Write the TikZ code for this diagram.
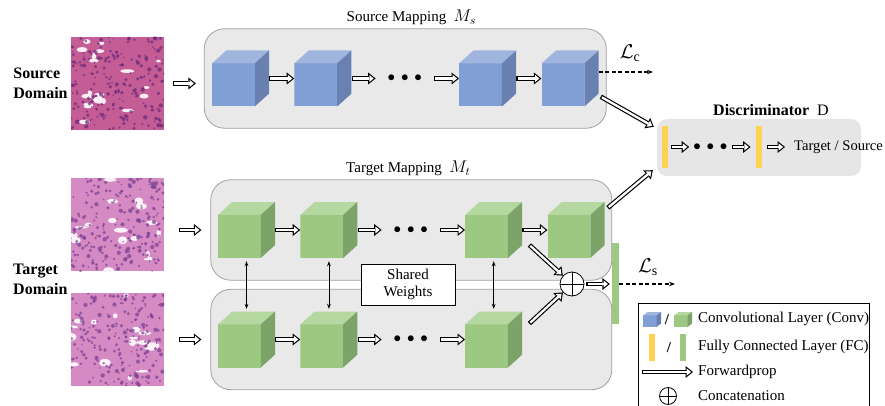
\RequirePackage{fix-cm}
\documentclass[tikz,border=0pt]{standalone}
\usepackage{amsmath, amssymb}
\usepackage{fontspec}
\setmainfont{Liberation Serif}
\usepackage{tikz}
\usetikzlibrary{arrows.meta, positioning, calc, fit, backgrounds}

\definecolor{bluefront}{RGB}{127,159,213}
\definecolor{bluetop}{RGB}{160,181,222}
\definecolor{blueside}{RGB}{104,129,176}
\definecolor{greenfront}{RGB}{157,200,130}
\definecolor{greentop}{RGB}{181,215,160}
\definecolor{greenside}{RGB}{124,163,104}
\definecolor{fcyellow}{RGB}{255,210,85}
\definecolor{fcgreen}{RGB}{157,200,130}
\definecolor{boxfill}{RGB}{233,233,233}
\definecolor{boxline}{RGB}{160,160,160}
\definecolor{discfill}{RGB}{230,230,230}
\definecolor{srcpink}{RGB}{196,92,150}
\definecolor{srcpurple}{RGB}{104,40,118}
\definecolor{tgtpink}{RGB}{214,138,196}
\definecolor{tgtpurple}{RGB}{118,62,142}

\begin{document}
\begin{tikzpicture}[
  x=1pt, y=-1pt,
  font=\fontsize{15}{17}\selectfont,
  convcube/.style={minimum width=57pt, minimum height=56pt, inner sep=0pt, path picture={
    \coordinate (cfr) at ($(path picture bounding box.south west)!.75!(path picture bounding box.south east)$);
    \coordinate (cft) at ($(path picture bounding box.south west)!.77!(path picture bounding box.north west)$);
    \coordinate (cbt) at ($(path picture bounding box.north west)!.25!(path picture bounding box.north east)$);
    \coordinate (cbs) at ($(path picture bounding box.south east)!.23!(path picture bounding box.north east)$);
    \fill[#1front] (path picture bounding box.south west) rectangle (cfr |- cft);
    \fill[#1top] (cft) -- (cbt) -- (path picture bounding box.north east) -- (cfr |- cft) -- cycle;
    \fill[#1side] (cfr |- cft) -- (path picture bounding box.north east) -- (cbs) -- (cfr) -- cycle;
  }},
  tissue/.style n args={3}{minimum size=93pt, inner sep=0pt, fill=#1, path picture={
    \pgfmathsetseed{#3}
    \foreach \k in {1,...,18}
      \fill[white!90!#1] ($(path picture bounding box.north west)+({rnd*93},{rnd*93})$) ellipse ({2+rnd*5} and {1+rnd*3});
    \foreach \k in {1,...,220}
      \fill[#2, opacity=.7] ($(path picture bounding box.north west)+({rnd*93},{rnd*93})$) circle ({.8+rnd*1.4});
  }},
  mapbox/.style={draw=boxline, fill=boxfill, rounded corners=20pt, line width=0.8pt},
  fcbar/.style={fill=#1, minimum width=6pt, minimum height=42pt, inner sep=0pt},
  dotsbox/.style={minimum width=58pt, inner sep=0pt},
  concat/.style={circle, draw, fill=white, line width=0.8pt, minimum size=24pt, inner sep=0pt, path picture={
    \draw[line width=0.8pt] (path picture bounding box.north) -- (path picture bounding box.south)
      (path picture bounding box.west) -- (path picture bounding box.east);
  }},
  fwdsh/.style 2 args={line width=4.6pt, shorten <=#1, shorten >=#2,
    -{Triangle[length=7.5pt, width=12pt, line width=0pt]},
    postaction={draw=white, line width=2.3pt, shorten <=#1+1.2pt, shorten >=#2+1.9pt,
      -{Triangle[length=4.4pt, width=7.2pt, line width=0pt]}}},
  fwd/.style={fwdsh={0pt}{0pt}},
  loss/.style={line width=1.1pt, dash pattern=on 4pt off 2.5pt, -{Stealth[length=6pt]}},
  share/.style={line width=0.8pt, {Stealth[length=5pt]}-{Stealth[length=5pt]}, shorten <=3pt, shorten >=2.5pt},
  lossname/.style={font=\fontsize{20}{24}\selectfont},
  domainname/.style={inner sep=0pt, align=left, font=\fontsize{16}{20}\selectfont\bfseries},
  node distance=25pt
]
\useasboundingbox (0,0) rectangle (885,406);
\clip (0,0) rectangle (885,406);

% images
\node[tissue={srcpink}{srcpurple}{11}] (srcimg) at (117.5,83.5) {};
\node[tissue={tgtpink}{tgtpurple}{23}] (timg1) at (117.5,224.5) {};
\node[tissue={tgtpink}{tgtpurple}{37}] (timg2) at (117.5,339.5) {};
\node[domainname, left=3pt of srcimg] (srcname) {Source\\Domain};
\node[domainname, anchor=west] (tgtname) at (13,279) {Target\\Domain};

% source mapping
\node[convcube=blue] (src1) at (240.5,78.5) {};
\node[convcube=blue, right=of src1] (src2) {};
\node[dotsbox, right=24pt of src2] (srcdots) {$\bullet\,\bullet\,\bullet$};
\node[convcube=blue, right=of srcdots] (src3) {};
\node[convcube=blue, right=of src3] (src4) {};

% target mapping, two streams
\node[convcube=green] (tu1) at (246.5,230) {};
\node[convcube=green, right=of tu1] (tu2) {};
\node[dotsbox, right=24pt of tu2] (tudots) {$\bullet\,\bullet\,\bullet$};
\node[convcube=green, right=of tudots] (tu3) {};
\node[convcube=green, right=of tu3] (tu4) {};
\node[convcube=green] (tl1) at (246.5,339.5) {};
\node[convcube=green, right=of tl1] (tl2) {};
\node[dotsbox, right=24pt of tl2] (tldots) {$\bullet\,\bullet\,\bullet$};
\node[convcube=green, right=of tldots] (tl3) {};

\begin{scope}[on background layer]
\node[mapbox, fit=(src1) (src4), inner xsep=7.5pt, inner ysep=21.5pt,
  label={[xshift=6pt]above:Source Mapping \ {\fontsize{17}{17}\selectfont$M_s$}}] (srcmap) {};
\node[mapbox, fit=(tu1) (tu4), inner xsep=7pt, inner ysep=22pt,
  label={[xshift=-3pt]above:Target Mapping \ {\fontsize{17}{17}\selectfont$M_t$}}] (tmapu) {};
\node[mapbox, fit=(tl1) (tl3) (tu4.east |- tl1), inner xsep=7pt, inner ysep=22pt] (tmapl) {};
\end{scope}

\node[draw, fill=white, line width=0.8pt, minimum width=94pt, minimum height=41pt, align=center, inner sep=2pt] (shared) at (408,284.5) {Shared\\Weights};

% discriminator
\node[fill=discfill, rounded corners=10pt, minimum width=204pt, minimum height=57pt,
  label={[xshift=12pt, font=\fontsize{16}{20}\selectfont]above:\textbf{Discriminator}\ \ $\mathrm{D}$}] (disc) at (759,147.5) {};
\node[fcbar=fcyellow] (fcA) at (665,147) {};
\node[dotsbox, minimum width=42pt, right=21pt of fcA] (ddots) {$\bullet\,\bullet\,\bullet$};
\node[fcbar=fcyellow, right=24pt of ddots] (fcB) {};
\node[inner sep=0pt, right=32pt of fcB, font=\fontsize{14.6}{17}\selectfont] (tsout) {Target / Source};

% concatenation and classifier
\node[concat] (cat) at (572,284) {};
\node[fcbar=fcgreen, minimum width=7pt, minimum height=81pt] (fcS) at (615.5,283.5) {};
\coordinate (lcend) at (653,72);
\coordinate (lsend) at (675,284);
\node[lossname] (lc) at (630,53) {$\mathcal{L}_{\mathrm{c}}$};
\node[lossname] (ls) at (648,267) {$\mathcal{L}_{\mathrm{s}}$};

\draw[fwdsh={9pt}{8pt}] (srcimg.east) -- (srcimg.east -| srcmap.west);
\draw[fwdsh={15pt}{9pt}] (timg1.east |- tu1.west) -- (tmapu.west |- tu1.west);
\draw[fwdsh={15pt}{9pt}] (timg2.east |- tl1.west) -- (tmapl.west |- tl1.west);

\draw[fwd] (src1) -- (src2);
\draw[fwd] (src2) -- (srcdots);
\draw[fwd] (srcdots) -- (src3);
\draw[fwd] (src3) -- (src4);
\draw[fwd] (tu1) -- (tu2);
\draw[fwd] (tu2) -- (tudots);
\draw[fwd] (tudots) -- (tu3);
\draw[fwd] (tu3) -- (tu4);
\draw[fwd] (tl1) -- (tl2);
\draw[fwd] (tl2) -- (tldots);
\draw[fwd] (tldots) -- (tl3);

\draw[share] (tu1.south) -- (tl1.north);
\draw[share] (tu2.south) -- (tl2.north);
\draw[share] (tu3.south) -- (tl3.north);

\draw[fwd] ($(tu3.east)+(7,15)$) -- (cat);
\draw[fwd] ($(tl3.east)+(7,-16)$) -- (cat);
\draw[fwdsh={2pt}{2pt}] (cat.east) -- (cat.east -| fcS.west);
\draw[loss] (fcS.east |- lsend) -- (lsend);
\draw[loss] (src4.east |- lcend) -- (lcend);

\draw[fwd] ($(src4.south east)+(2,-10)$) -- ($(disc.north west)+(-3,8)$);
\draw[fwd] ($(tu4.north east)+(3,6)$) -- ($(disc.south west)+(-4,-6)$);
\draw[fwdsh={3pt}{0pt}] (fcA) -- (ddots);
\draw[fwdsh={0pt}{5pt}] (ddots) -- (fcB);
\draw[fwdsh={5pt}{9pt}] (fcB) -- (tsout);

% legend
\node[draw, line width=0.8pt, anchor=north west, minimum width=231pt, minimum height=110pt, inner sep=0pt] (legend) at (638,303) {};
\node[convcube=blue, minimum width=18pt, minimum height=15pt] (lgblue) at (652,319.5) {};
\node (lgslash1) at (667,320) {\textbf{/}};
\node[convcube=green, minimum width=18pt, minimum height=15pt] (lggreen) at (683,319.5) {};
\node[anchor=west, inner sep=0pt] (lgconv) at (698,319) {Convolutional Layer (Conv)};
\node[fcbar=fcyellow, minimum height=27pt] (lgyellow) at (652,347.5) {};
\node (lgslash2) at (669,347.5) {\textbf{/}};
\node[fcbar=fcgreen, minimum height=27pt] (lggreenbar) at (683,347.5) {};
\node[anchor=west, inner sep=0pt] (lgfc) at (698,347) {Fully Connected Layer (FC)};
\coordinate (lgarr) at (642,372);
\node[anchor=west, inner sep=0pt] (lgfwd) at (698,372) {Forwardprop};
\draw[fwdsh={0pt}{5pt}] (lgarr) -- (lgfwd.west);
\node[concat, minimum size=17pt] (lgcat) at (668,396) {};
\node[anchor=west, inner sep=0pt] (lgcattext) at (698,396) {Concatenation};
\end{tikzpicture}
\end{document}
